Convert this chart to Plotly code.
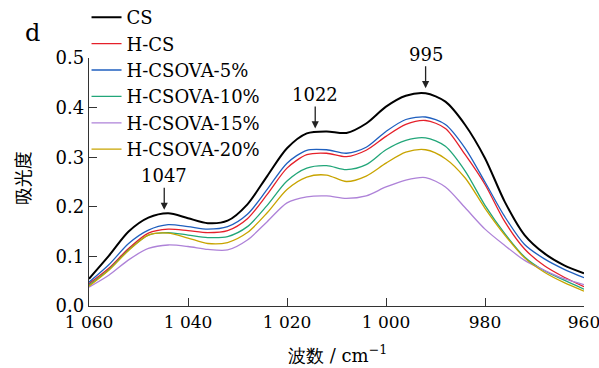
import plotly.graph_objects as go

# wavenumber (cm^-1)
wavenumber = [1060, 1056, 1052, 1048, 1044, 1040, 1036, 1032, 1028, 1024, 1020, 1016, 1012,
              1008, 1004, 1000, 996, 992, 988, 984, 980, 976, 972, 968, 964, 960]

cs = [0.055, 0.101, 0.150, 0.178, 0.187, 0.177, 0.167, 0.172, 0.205, 0.262, 0.318, 0.348, 0.352,
      0.349, 0.368, 0.402, 0.424, 0.429, 0.412, 0.365, 0.298, 0.210, 0.143, 0.106, 0.082, 0.066]
h_cs = [0.045, 0.076, 0.116, 0.147, 0.155, 0.152, 0.148, 0.152, 0.176, 0.225, 0.278, 0.305, 0.308,
        0.301, 0.314, 0.342, 0.366, 0.374, 0.358, 0.305, 0.245, 0.170, 0.115, 0.081, 0.058, 0.039]
h_csova_5 = [0.048, 0.083, 0.126, 0.153, 0.164, 0.160, 0.155, 0.160, 0.185, 0.235, 0.288, 0.314, 0.315,
             0.308, 0.320, 0.352, 0.376, 0.381, 0.366, 0.318, 0.250, 0.180, 0.124, 0.095, 0.074, 0.057]
h_csova_10 = [0.042, 0.073, 0.113, 0.143, 0.148, 0.143, 0.138, 0.140, 0.160, 0.203, 0.252, 0.278, 0.283,
              0.275, 0.285, 0.315, 0.334, 0.339, 0.322, 0.272, 0.203, 0.146, 0.099, 0.071, 0.052, 0.034]
h_csova_15 = [0.038, 0.062, 0.093, 0.116, 0.123, 0.120, 0.114, 0.113, 0.133, 0.170, 0.208, 0.220, 0.222,
              0.217, 0.222, 0.240, 0.254, 0.259, 0.240, 0.198, 0.155, 0.122, 0.092, 0.072, 0.055, 0.043]
h_csova_20 = [0.040, 0.072, 0.112, 0.143, 0.147, 0.137, 0.126, 0.128, 0.148, 0.188, 0.235, 0.260, 0.264,
              0.251, 0.262, 0.288, 0.310, 0.315, 0.297, 0.258, 0.197, 0.143, 0.097, 0.068, 0.047, 0.030]

series_names = ["CS", "H-CS", "H-CSOVA-5%", "H-CSOVA-10%", "H-CSOVA-15%", "H-CSOVA-20%"]
series_values = [cs, h_cs, h_csova_5, h_csova_10, h_csova_15, h_csova_20]
series_colors = ["#000000", "#e5202a", "#1f5fbf", "#22a679", "#ae82d8", "#c8a400"]
series_widths = [2.0, 1.3, 1.3, 1.3, 1.3, 1.3]

x_tickvals = [1060, 1040, 1020, 1000, 980, 960]
x_ticktext = ["1 060", "1 040", "1 020", "1 000", "980", "960"]
y_tickvals = [0.0, 0.1, 0.2, 0.3, 0.4, 0.5]

peak_labels = ["1047", "1022", "995"]
peak_x = [1044.8, 1014.3, 992.0]
peak_y = [0.194, 0.358, 0.439]

FONT = "DejaVu Serif, serif"

fig = go.Figure()
for name, vals, col, w in zip(series_names, series_values, series_colors, series_widths):
    fig.add_trace(go.Scatter(x=wavenumber, y=vals, mode="lines", name=name,
                             line=dict(color=col, width=w, shape="spline", smoothing=0.8)))

for lab, px, py in zip(peak_labels, peak_x, peak_y):
    fig.add_annotation(x=px, y=py, xref="x", yref="y", text=lab, showarrow=True,
                       ax=0, ay=-34, arrowhead=2, arrowsize=1.1, arrowwidth=1.3,
                       arrowcolor="#222", standoff=0, font=dict(family=FONT, size=18, color="#000"))

fig.add_annotation(x=-0.133, y=1.167, xref="paper", yref="paper", text="d", showarrow=False,
                   font=dict(family=FONT, size=24, color="#000"))
fig.add_annotation(x=-0.165, y=0.516, xref="paper", yref="paper", text="吸光度", showarrow=False,
                   textangle=-90, font=dict(family="Noto Sans CJK SC", size=18, color="#000"))
fig.add_annotation(x=0.503, y=-0.25, xref="paper", yref="paper",
                   text="波数 / cm<sup>−1</sup>", showarrow=False,
                   font=dict(family=FONT, size=18, color="#000"))

fig.update_layout(
    width=599, height=368,
    margin=dict(l=89, r=15, t=58, b=62, autoexpand=False),
    paper_bgcolor="white", plot_bgcolor="white",
    font=dict(family=FONT, size=18, color="#000"),
    showlegend=True,
    legend=dict(x=-0.005, y=1.238, xanchor="left", yanchor="top", bgcolor="rgba(0,0,0,0)",
                font=dict(family=FONT, size=18), tracegroupgap=0, itemwidth=30),
    xaxis=dict(range=[1060, 960], tickvals=x_tickvals, ticktext=x_ticktext,
               ticks="inside", ticklen=8, tickwidth=1.3, tickcolor="#333",
               ticklabeloverflow="allow",
               showline=True, linecolor="#333", linewidth=1.3, showgrid=False, zeroline=False,
               tickfont=dict(family=FONT, size=17)),
    yaxis=dict(range=[0, 0.5], tickvals=y_tickvals, tickformat=".1f",
               ticks="inside", ticklen=8, tickwidth=1.3, tickcolor="#333",
               showline=True, linecolor="#333", linewidth=1.3, showgrid=False, zeroline=False,
               tickfont=dict(family=FONT, size=18)),
)

fig.write_html("out.html", config={"displayModeBar": False},
               post_script="document.body.style.margin='0';document.body.style.padding='0';")
